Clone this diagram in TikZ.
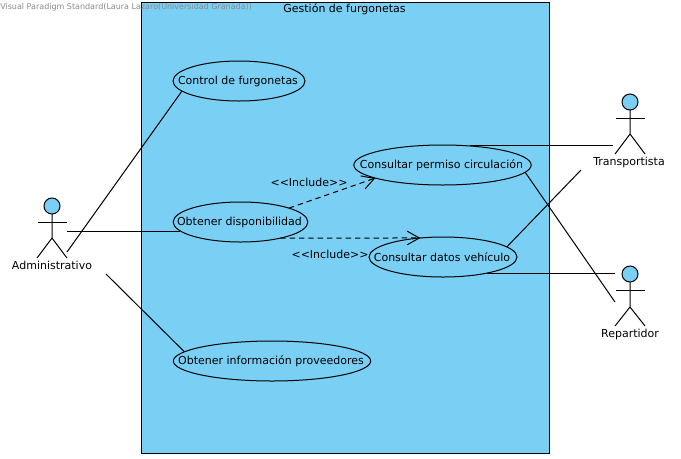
\documentclass[tikz,border=0pt]{standalone}
\usepackage{fontspec}
\setmainfont{DejaVu Sans}
\usepackage{xcolor}
\usetikzlibrary{positioning,arrows.meta,shapes.geometric}
\definecolor{vpblue}{HTML}{7ACFF5}
\definecolor{vpink}{HTML}{000000}
\definecolor{vpmute}{HTML}{8A8A8A}
\newcommand{\uctext}[1]{\raisebox{-0.6pt}{\makebox[0pt]{\hspace*{-1.5pt}#1}}}

\begin{document}
\begin{tikzpicture}[
  x=0.75pt, y=-0.75pt,
  font=\fontsize{8.25pt}{10pt}\selectfont,
  system/.style={draw=vpink, fill=vpblue, line width=0.75pt},
  usecase/.style={ellipse, draw=vpink, fill=vpblue, line width=0.75pt, inner sep=0pt, outer sep=0pt, minimum height=30pt, text=vpink},
  head/.style={circle, draw=vpink, fill=vpblue, line width=0.75pt, inner sep=0pt, outer sep=0pt, minimum size=12pt},
  limb/.style={draw=vpink, line width=0.75pt},
  assoc/.style={draw=vpink, line width=0.75pt},
  incl/.style={draw=vpink, line width=0.75pt, dash pattern=on 4pt off 3pt, -{Straight Barb[length=3.2mm, width=3.6mm]}},
  lbl/.style={inner sep=0pt, text=vpink},
  wmark/.style={inner sep=0pt, anchor=west, text=vpmute, font=\fontsize{6pt}{7pt}\selectfont}
]
\useasboundingbox (0,0) rectangle (681,458);
\draw[system] (141.5,2.5) rectangle (549.5,453.5);

\node[lbl] (title) at (344.5,9) {Gestión de furgonetas};

\node[usecase, minimum width=99pt] (control) at (239,81) {\uctext{Control de furgonetas}};
\node[usecase, minimum width=101pt] (disp) at (240.5,222) {\uctext{Obtener disponibilidad}};
\node[usecase, minimum width=133pt] (permiso) at (442.5,165) {\uctext{Consultar permiso circulación}};
\node[usecase, minimum width=111pt] (datos) at (443,257) {\uctext{Consultar datos vehículo}};
\node[usecase, minimum width=148pt] (info) at (272,361) {\uctext{Obtener información proveedores}};

% actors
\node[head] (admin) at (52,206) {};
\draw[limb] (admin.south) -- ++(0,24) coordinate (adminhip) -- ++(-15,20);
\draw[limb] (adminhip) -- ++(15,20);
\draw[limb] (38,222) -- (67,222);
\node[lbl, below=35.5pt of admin] (adminlbl) {Administrativo};

\node[head] (transp) at (630,102) {};
\draw[limb] (transp.south) -- ++(0,24) coordinate (transphip) -- ++(-15,20);
\draw[limb] (transphip) -- ++(15,20);
\draw[limb] (616,118) -- (645,118);
\node[lbl, below=35.5pt of transp, xshift=-0.75pt] (transplbl) {Transportista};

\node[head] (repart) at (630,274) {};
\draw[limb] (repart.south) -- ++(0,25) coordinate (reparthip) -- ++(-15,19);
\draw[limb] (reparthip) -- ++(15,19);
\draw[limb] (616,290) -- (645,290);
\node[lbl, below=35.5pt of repart] (repartlbl) {Repartidor};

% free ends of the associations
\coordinate (a1) at (67,252);
\coordinate (a2) at (67,231);
\coordinate (a3) at (106,274);
\coordinate (t1) at (613,146);
\coordinate (t2) at (581,170);
\coordinate (r1) at (615,273);
\coordinate (r2) at (615,302);

\draw[assoc] (a1) -- (control.190);
\draw[assoc] (a2) -- (disp.188.5 |- a2);
\draw[assoc] (a3) -- (info.174);
\draw[assoc] (permiso.35) -- (t1 |- permiso.35);
\draw[assoc] (permiso.-5) -- (r2);
\draw[assoc] (datos.9) -- (t2);
\draw[assoc] (datos.-20) -- (r1 |- datos.-20);

\draw[incl] (disp.16.5) -- (permiso.191);
\draw[incl] (disp.-22) -- (datos.140.4);

\node[lbl] (incl1) at (309,182) {{<}{<}Include{>}{>}};
\node[lbl] (incl2) at (330,254) {{<}{<}Include{>}{>}};

\node[wmark] (vp) at (0,7) {Visual Paradigm Standard(Laura Lazaro(Universidad Granada))};
\end{tikzpicture}
\end{document}
